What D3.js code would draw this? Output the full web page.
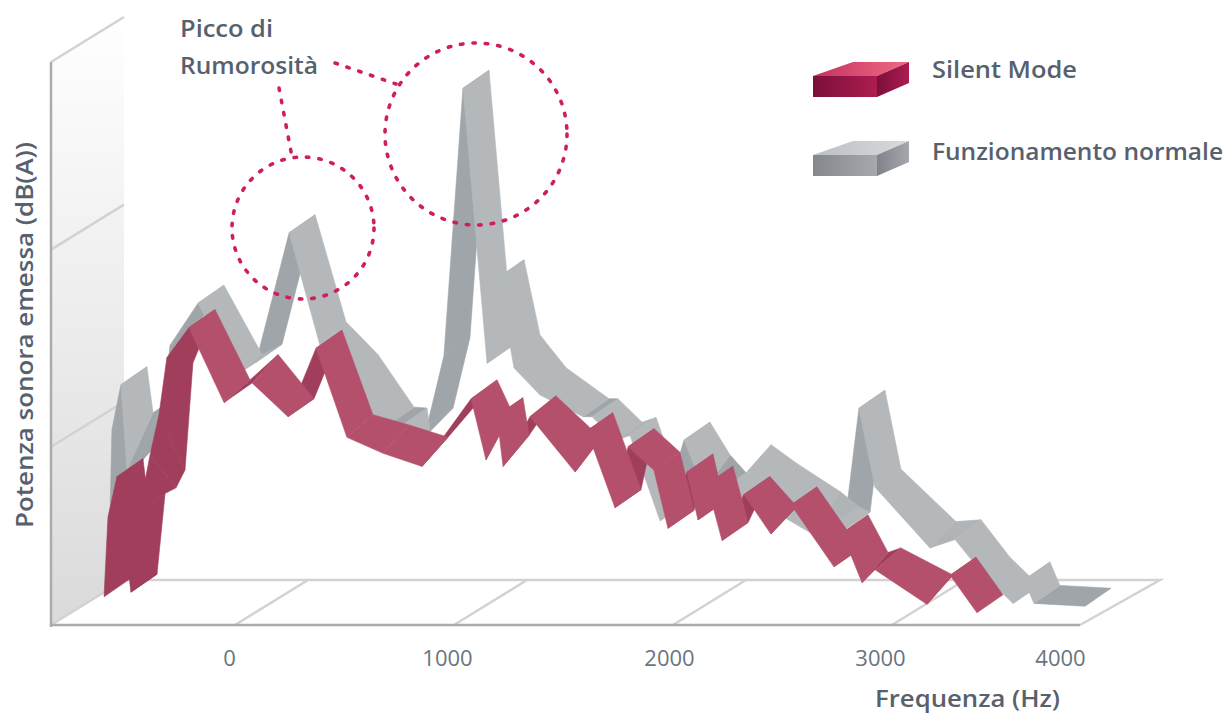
<!doctype html>
<html lang="it">
<head>
    <meta charset="UTF-8">
    <title>Potenza sonora emessa - Silent Mode</title>
    <script src="https://d3js.org/d3.v7.min.js"></script>
    <style>
      html, body { margin: 0; padding: 0; background: #fff; }
      svg { display: block; }
      text { font-family: "Open Sans", sans-serif; fill: #57616d; }
      .soft { filter: blur(0.45px); }
    </style>
</head>
<body>
    <div id="chart"></div>

    <script>

      // Series: frequency in Hz, level in dB(A) on the front and back edge of each ribbon
      const silentHz = [-598, -580, -539, -475, -438, -388, -347, -311, -210, -50, 78, 242, 370, 511, 676, 854, 1078, 1146, 1196, 1224, 1347, 1553, 1607, 1735, 1795, 1913, 1977, 2064, 2114, 2155, 2224, 2324, 2447, 2539, 2735, 2772, 2863, 2922, 3186, 3309, 3452];
      const silentDb = [3.0, 11.5, 15.8, 3.5, 12.1, 18.1, 22.4, 28.5, 31.7, 23.7, 25.8, 22.2, 29.5, 20.0, 18.3, 16.9, 24.1, 17.6, 22.3, 16.9, 22.2, 16.3, 20.7, 12.5, 19.0, 16.5, 10.3, 16.3, 11.2, 15.0, 9.0, 13.9, 9.7, 12.8, 6.2, 9.8, 4.5, 5.9, 2.2, 5.3, 1.3];
      const silentBackDb = [3.0, 11.5, 15.8, 3.5, 12.1, 12.7, 14.6, 26.0, 31.7, 24.2, 26.9, 22.2, 29.5, 20.5, 19.4, 18.1, 24.2, 20.8, 22.3, 18.3, 22.5, 18.0, 20.7, 12.5, 19.0, 16.5, 10.3, 16.3, 11.2, 15.0, 9.0, 13.9, 10.7, 12.8, 6.2, 9.8, 5.8, 6.3, 3.4, 5.3, 1.3];

      const normalHz = [-571, -562, -521, -493, -461, -342, -297, -169, 5, 96, 247, 388, 534, 699, 758, 772, 877, 954, 1041, 1151, 1201, 1274, 1393, 1589, 1630, 1740, 1804, 1941, 2050, 2142, 2215, 2329, 2447, 2644, 2731, 2781, 2849, 2922, 3202, 3335, 3489, 3644, 3702, 3755, 4027];
      const normalDb = [11.2, 20.8, 25.6, 16.5, 16.5, 19.7, 29.8, 34.3, 26.6, 28.0, 41.8, 29.8, 24.0, 21.3, 21.2, 18.7, 21.2, 28.7, 57.2, 27.9, 37.0, 27.4, 24.5, 22.2, 22.2, 19.7, 20.2, 11.1, 19.7, 14.4, 14.3, 13.3, 12.3, 9.6, 10.7, 10.1, 23.1, 14.7, 8.2, 9.1, 5.3, 2.3, 4.8, 2.3, 2.0];
      const normalBackDb = [11.2, 20.8, 25.6, 20.7, 21.2, 19.7, 29.8, 34.3, 26.9, 28.0, 41.8, 30.4, 26.9, 21.3, 21.2, 18.7, 21.2, 28.7, 57.2, 27.9, 37.0, 29.0, 25.5, 22.2, 22.2, 19.7, 20.2, 11.1, 19.7, 16.2, 14.3, 17.3, 15.3, 12.3, 10.7, 10.1, 23.1, 14.7, 9.1, 9.3, 5.3, 2.3, 4.8, 2.3, 2.0];

      const freqTicks = [0, 1000, 2000, 3000, 4000];
      const levelTicks = [0, 19, 40, 60];
      const legendLabels = ['Silent Mode', 'Funzionamento normale'];

      const svg = d3.select('#chart')
          .append('svg')
          .attr('width', 1228)
          .attr('height', 713);

      // Front edge of the floor, the last section is narrower in the picture
      const x = d3.scaleLinear()
          .domain([0, 3000, 4000])
          .range([235, 892, 1080]);

      const y = d3.scaleLinear()
          .domain([0, 60])
          .range([625, 62]);

      // Tick labels do not sit exactly on the grid lines
      const xLabels = d3.scaleOrdinal()
          .domain(freqTicks)
          .range([229, 447, 669, 880, 1060]);

      const floorDepth = { x: 73, y: -45 };
      const ribbonDepth = { x: 26, y: -18 };
      const wallLeft = 51;
      const floorRight = x(4000);
      const gridColor = '#d2d2d2';
      const axisColor = '#a9abae';

      const defs = svg.append('defs');

      const wallGradient = defs.append('linearGradient')
          .attr('id', 'wall')
          .attr('x1', 0).attr('x2', 0).attr('y1', 0).attr('y2', 1);
      wallGradient.append('stop').attr('offset', 0).attr('stop-color', '#ffffff');
      wallGradient.append('stop').attr('offset', 1).attr('stop-color', '#dadada');

      function addGradient(id, c0, c1) {
        const g = defs.append('linearGradient').attr('id', id);
        g.append('stop').attr('offset', 0).attr('stop-color', c0);
        g.append('stop').attr('offset', 1).attr('stop-color', c1);
      }
      addGradient('silentFront', '#7c0f3a', '#ad1c50');
      addGradient('silentTop', '#c2335f', '#f06a85');
      addGradient('silentSide', '#7c0f3a', '#ad1c50');
      addGradient('normalFront', '#84878d', '#a5a8ad');
      addGradient('normalTop', '#bcbfc3', '#d8dadc');
      addGradient('normalSide', '#7f8288', '#a5a8ad');

      const frame = svg.append('g').attr('class', 'soft');

      // Left wall
      frame.append('path')
          .attr('fill', 'url(#wall)')
          .attr('d', d3.line()([
            [wallLeft, y(60)],
            [wallLeft + floorDepth.x, y(60) + floorDepth.y],
            [wallLeft + floorDepth.x, y(0) + floorDepth.y],
            [wallLeft, y(0)]
          ]) + 'Z');

      // Wall grid lines
      frame.selectAll('.wall-line')
          .data(levelTicks)
          .enter()
          .append('line')
          .attr('x1', wallLeft)
          .attr('y1', d => y(d))
          .attr('x2', wallLeft + floorDepth.x)
          .attr('y2', d => y(d) + floorDepth.y)
          .attr('stroke', gridColor)
          .attr('stroke-width', 2.5);

      // Floor grid lines
      frame.selectAll('.floor-line')
          .data(freqTicks.slice(0, -1))
          .enter()
          .append('line')
          .attr('x1', d => x(d))
          .attr('y1', y(0))
          .attr('x2', d => x(d) + floorDepth.x)
          .attr('y2', y(0) + floorDepth.y)
          .attr('stroke', gridColor)
          .attr('stroke-width', 2.5);

      // Right and back edge of the floor
      frame.append('path')
          .attr('fill', 'none')
          .attr('stroke', gridColor)
          .attr('stroke-width', 2.5)
          .attr('d', d3.line()([
            [floorRight, y(0)],
            [floorRight + 80, y(0) + floorDepth.y],
            [wallLeft + floorDepth.x, y(0) + floorDepth.y]
          ]));

      // Front axis lines
      frame.append('line')
          .attr('x1', wallLeft)
          .attr('y1', y(60))
          .attr('x2', wallLeft)
          .attr('y2', y(0) + 2)
          .attr('stroke', axisColor)
          .attr('stroke-width', 2.5);

      frame.append('line')
          .attr('x1', wallLeft)
          .attr('y1', y(0))
          .attr('x2', floorRight)
          .attr('y2', y(0))
          .attr('stroke', axisColor)
          .attr('stroke-width', 2.5);

      // One quad per segment, darker where we look at the underside or a flat part
      function drawRibbon(hz, db, backDb, colors, solidBelow) {
        const front = hz.map((d, i) => [x(d), y(db[i])]);
        const back = hz.map((d, i) => [x(d) + ribbonDepth.x, y(backDb[i]) + ribbonDepth.y]);
        const quads = d3.pairs(d3.range(hz.length)).map(([i, j]) => {
          const slope = (front[j][1] - front[i][1]) / (front[j][0] - front[i][0]);
          let fill = colors.light;
          if (hz[j] < solidBelow || slope < ribbonDepth.y / ribbonDepth.x || Math.abs(slope) < 0.08) fill = colors.dark;
          else if (slope < 0) fill = colors.mid;
          return { fill: fill, points: [front[i], front[j], back[j], back[i]] };
        });

        const rank = f => (f === colors.dark ? 0 : 1);
        quads.sort((p, q) => rank(p.fill) - rank(q.fill));

        svg.append('g')
            .attr('class', 'soft')
            .selectAll('path')
            .data(quads)
            .enter()
            .append('path')
            .attr('d', d => d3.line()(d.points) + 'Z')
            .attr('fill', d => d.fill)
            .attr('stroke', d => d.fill)
            .attr('stroke-width', 0.6);
      }

      drawRibbon(normalHz, normalDb, normalBackDb, { light: '#b4b8bb', mid: '#b0b4b7', dark: '#a0a5a9' }, -1000);
      drawRibbon(silentHz, silentDb, silentBackDb, { light: '#b5506c', mid: '#aa4663', dark: '#a03e5c' }, -300);

      // x tick labels
      const xAxis = d3.axisBottom(xLabels).tickSize(0).tickPadding(0);
      const axisG = svg.append('g')
          .attr('transform', 'translate(0,650)')
          .call(xAxis);
      axisG.select('.domain').remove();
      axisG.selectAll('text')
          .style('font-family', '"Open Sans", sans-serif')
          .style('font-size', '22px')
          .style('fill', '#6a7480');

      // Text labels with the width they have in the picture
      function label(text, px, py, length, transform) {
        svg.append('text')
            .attr('x', px)
            .attr('y', py)
            .attr('transform', transform || null)
            .attr('font-size', 24)
            .attr('font-weight', 600)
            .attr('textLength', length)
            .attr('lengthAdjust', 'spacingAndGlyphs')
            .text(text);
      }

      label('Frequenza (Hz)', 875, 707, 185);
      label('Potenza sonora emessa (dB(A))', 0, 0, 386, 'translate(33,528) rotate(-90)');
      label('Picco di', 180, 37, 93);
      label('Rumorosità', 180, 74, 138);
      label(legendLabels[0], 932, 78, 145);
      label(legendLabels[1], 932, 160, 291);

      // Annotation
      const notes = svg.append('g')
          .attr('fill', 'none')
          .attr('stroke', '#cf1d5f')
          .attr('stroke-width', 3.6)
          .attr('stroke-linecap', 'round')
          .attr('stroke-dasharray', '2.5 10');

      notes.append('circle').attr('cx', 476).attr('cy', 134).attr('r', 91);
      notes.append('circle').attr('cx', 303).attr('cy', 228).attr('r', 71);
      notes.append('path').attr('d', d3.line()([[335, 63], [396, 84]]));
      notes.append('path').attr('d', d3.line()([[279, 88], [292, 157]]));

      // Legend
      function legendBox(top, name) {
        const g = svg.append('g').attr('class', 'soft');
        const l = 813, r = 877, h = 21, dx = 32, dy = -14;
        g.append('path')
            .attr('fill', `url(#${name}Top)`)
            .attr('d', d3.line()([[l, top], [l + 40, top + dy], [r + dx, top + dy], [r, top]]) + 'Z');
        g.append('path')
            .attr('fill', `url(#${name}Front)`)
            .attr('d', d3.line()([[l, top], [r, top], [r, top + h], [l, top + h]]) + 'Z');
        g.append('path')
            .attr('fill', `url(#${name}Side)`)
            .attr('d', d3.line()([[r, top], [r + dx, top + dy], [r + dx, top + h + dy + 0], [r, top + h]]) + 'Z');
      }

      legendBox(76, 'silent');
      legendBox(155, 'normal');

    </script>

</body>
</html>
